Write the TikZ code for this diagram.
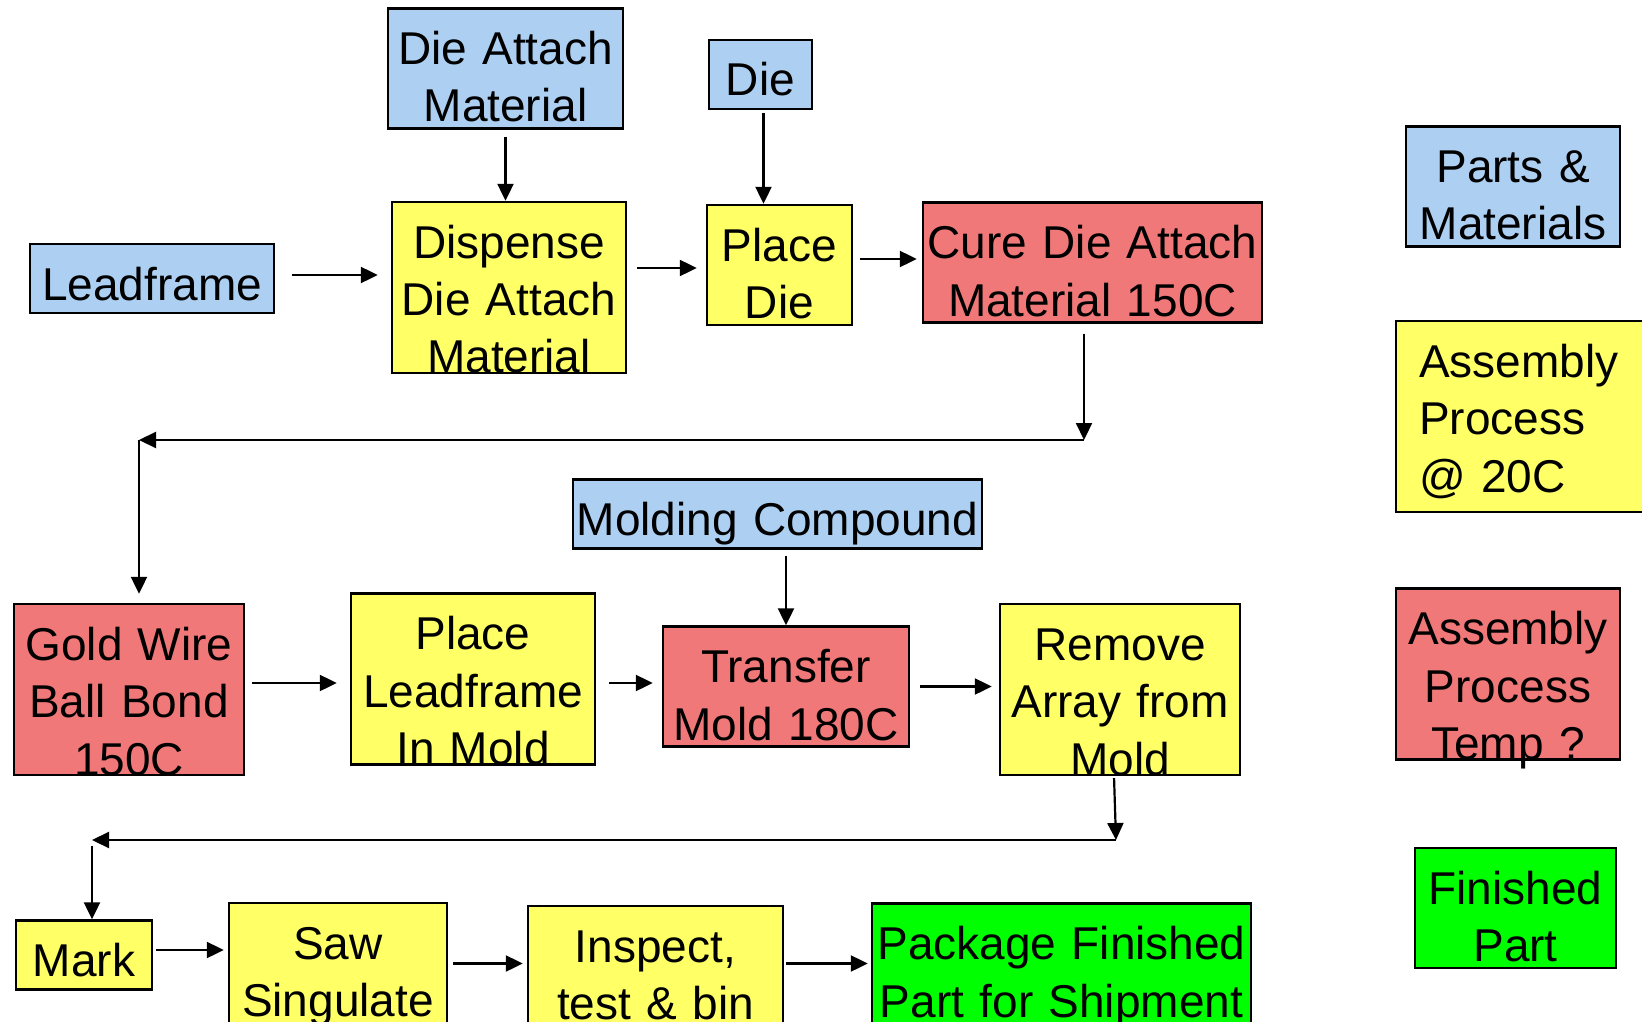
\documentclass[tikz,border=0pt]{standalone}
\usepackage{fontspec}
\setmainfont{Liberation Sans}
\usetikzlibrary{shapes.geometric, arrows.meta, positioning}
\definecolor{partblue}{RGB}{173,208,242}
\definecolor{procyellow}{RGB}{255,255,102}
\definecolor{hotred}{RGB}{240,120,120}
\definecolor{donegreen}{RGB}{0,255,0}
\tikzstyle{box} = [rectangle, draw, line width=2.4pt, inner sep=0pt, text centered, text height=56pt]
\tikzstyle{low} = [text depth=13pt]
\tikzstyle{mid} = [text depth=64pt]
\tikzstyle{tall} = [text depth=115pt]
\tikzstyle{part} = [box, fill=partblue]
\tikzstyle{proc} = [box, fill=procyellow]
\tikzstyle{hot} = [box, fill=hotred]
\tikzstyle{done} = [box, fill=donegreen]
\tikzstyle{line} = [draw, line width=2.2pt, -{Triangle[length=17pt, width=16pt]}]

\begin{document}
\begin{tikzpicture}[x=1pt, y=-1pt, font={\fontsize{46}{57.5}\selectfont}]
        \useasboundingbox (0,0) rectangle (1642,1022);
        % Nodes
        \node [part, low, text width=244pt] (lead) at (152,278.5) {Leadframe};
        \node [proc, tall, text width=234pt, right of=lead, node distance=357pt, yshift=-9pt] (disp) {Dispense\\Die Attach\\Material};
        \node [part, mid, text width=235pt, above of=disp, node distance=219pt, xshift=-3.5pt] (dam) {Die Attach\\Material};
        \node [proc, mid, text width=145pt, right of=disp, node distance=270.5pt, yshift=22.5pt] (pdie) {Place\\Die};
        \node [part, low, text width=103pt, above of=pdie, node distance=190.5pt, xshift=-19pt] (die) {Die};
        \node [hot, mid, text width=339pt, right of=pdie, node distance=313pt, yshift=2.5pt] (cure) {Cure Die Attach\\Material 150C};

        \node [hot, tall, text width=230pt, below of=lead, node distance=411pt, xshift=-23pt] (gold) {Gold Wire\\Ball Bond\\150C};
        \node [proc, tall, text width=244pt, right of=gold, node distance=344pt, yshift=10.5pt] (plm) {Place\\Leadframe\\In Mold};
        \node [hot, mid, text width=246pt, right of=plm, node distance=313pt, yshift=-7.5pt] (trans) {Transfer\\Mold 180C};
        \node [part, low, text width=409pt, above of=trans, node distance=172.5pt, xshift=-8.5pt] (mold) {Molding Compound};
        \node [proc, tall, text width=240pt, right of=trans, node distance=334pt, yshift=-3pt] (remove) {Remove\\Array from\\Mold};

        \node [proc, low, text width=136pt, below of=gold, node distance=265.5pt, xshift=-45pt] (mark) {Mark};
        \node [proc, tall, text width=218pt, right of=mark, node distance=254pt, yshift=-33.5pt] (saw) {Saw\\Singulate};
        \node [proc, tall, text width=255pt, right of=saw, node distance=317.5pt, yshift=-3pt] (insp) {Inspect,\\test \& bin};
        \node [done, mid, text width=379pt, right of=insp, node distance=406pt, yshift=28pt] (pack) {Package Finished\\Part for Shipment};

        % Legend
        \node [part, mid, text width=214pt] (parts) at (1513,186.5) {Parts \&\\Materials};
        \node [proc, text depth=135pt, text width=218pt, inner xsep=23pt, align=left, below of=parts, node distance=230pt, xshift=15pt] (asm20) {Assembly\\Process\\@ 20C};
        \node [hot, tall, text width=224pt, below of=asm20, node distance=257.5pt, xshift=-20pt] (asmT) {Assembly\\Process\\Temp ?};
        \node [done, mid, text width=201pt, below of=asmT, node distance=234pt, xshift=7.5pt] (fin) {Finished\\Part};

        % Turns
        \coordinate (turnA) at (1084,440);
        \coordinate (turnB) at (139,440);
        \coordinate (turnC) at (1116,840);
        \coordinate (turnD) at (92,840);

        % Lines
        \path [line, shorten <=7pt] (dam.south) -- (dam.south |- disp.north);
        \path [line, shorten <=3pt] ([xshift=3pt]die.south) -- ([xshift=3pt]die.south |- pdie.north);
        \path [line, shorten <=17pt, shorten >=13pt] ([yshift=3.5pt]lead.east) -- ([yshift=3.5pt]lead.east -| disp.west);
        \path [line, shorten <=10pt, shorten >=9pt] ([yshift=-3pt]pdie.west -| disp.east) -- ([yshift=-3pt]pdie.west);
        \path [line, shorten <=7pt, shorten >=5pt] ([yshift=6pt]pdie.east) -- ([yshift=6pt]pdie.east -| cure.west);
        \path [line, shorten <=10pt] (cure.south -| turnA) -- (turnA);
        \path [line] (turnA) -- (turnB);
        \path [line, shorten >=9pt] (turnB) -- (turnB |- gold.north);
        \path [line, shorten <=7pt, shorten >=13pt] ([yshift=-4pt]plm.west -| gold.east) -- ([yshift=-4pt]plm.west);
        \path [line, shorten <=13pt, shorten >=9pt] ([yshift=-4pt]plm.east) -- ([yshift=-4pt]plm.east -| trans.west);
        \path [line, shorten <=6pt] (trans.north |- mold.south) -- (trans.north);
        \path [line, shorten <=10pt, shorten >=7pt] (trans.east) -- (trans.east -| remove.west);
        \path [line, shorten <=2pt] ([xshift=-6pt]remove.south) -- (turnC);
        \path [line] (turnC) -- (turnD);
        \path [line, shorten <=6pt] (turnD) -- (turnD |- mark.north);
        \path [line, shorten <=3pt, shorten >=4pt] ([yshift=5pt]mark.east) -- ([yshift=5pt]mark.east -| saw.west);
        \path [line, shorten <=5pt, shorten >=4pt] (saw.east |- pack.west) -- (insp.west |- pack.west);
        \path [line, shorten <=2pt, shorten >=3pt] (insp.east |- pack.west) -- (pack.west);
\end{tikzpicture}
\end{document}
